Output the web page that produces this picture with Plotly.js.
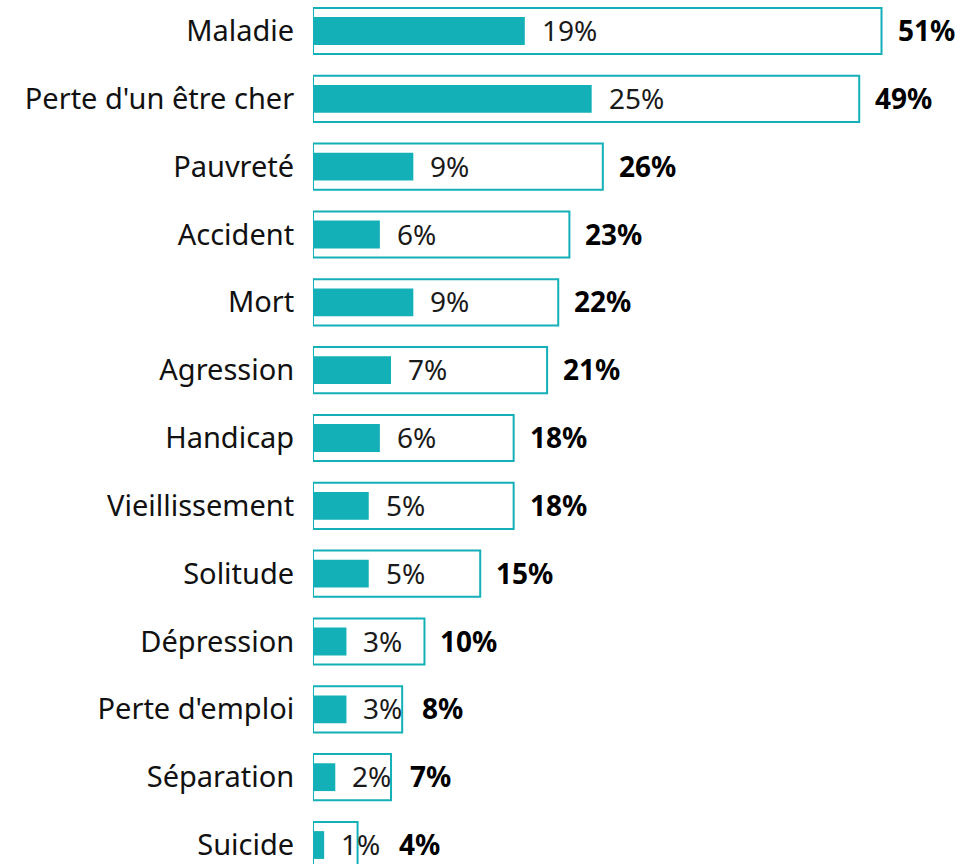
<!DOCTYPE html>
<html>
<head>
<meta charset="utf-8">
<script src="https://cdn.plot.ly/plotly-3.0.1.min.js"></script>
<style>html,body{margin:0;padding:0;background:#fff;}#chart{width:964px;height:864px;}</style>
</head>
<body>
<div id="chart"></div>
<script>
const categories = ["Maladie","Perte d'un être cher","Pauvreté","Accident","Mort","Agression","Handicap","Vieillissement","Solitude","Dépression","Perte d'emploi","Séparation","Suicide"];
const totalValues = [51,49,26,23,22,21,18,18,15,10,8,7,4];
const innerValues = [19,25,9,6,9,7,6,5,5,3,3,2,1];
const teal = "#13B0B8";
const font = "Noto Sans, Open Sans, sans-serif";

const traces = [
  {type:"bar", orientation:"h", y:categories, x:totalValues, width:0.68,
   marker:{color:"#ffffff", line:{color:teal, width:2}}, hoverinfo:"none"},
  {type:"bar", orientation:"h", y:categories, x:innerValues, width:0.41,
   marker:{color:teal, line:{width:0}}, hoverinfo:"none"}
];

const innerLabelUnits = 5.3; // approx width of inner label + gap in axis units
const annotations = [];
categories.forEach((c,i)=>{
  annotations.push({x:innerValues[i], y:c, text:innerValues[i]+"%", xanchor:"left", yanchor:"middle",
    xshift:16, yshift:1, showarrow:false, borderpad:0, font:{family:font, size:28, color:"#1a1a1a"}});
  const tx = Math.max(totalValues[i], innerValues[i] + innerLabelUnits);
  annotations.push({x:tx, y:c, text:"<b>"+totalValues[i]+"%</b>", xanchor:"left", yanchor:"middle",
    xshift:15, yshift:1, showarrow:false, borderpad:0, font:{family:font, size:28, color:"#000"}});
});

const layout = {
  width:964, height:864,
  margin:{l:313, r:0, t:0, b:0},
  paper_bgcolor:"#fff", plot_bgcolor:"#fff",
  barmode:"overlay",
  showlegend:false,
  xaxis:{range:[0,58.4], visible:false, fixedrange:true},
  yaxis:{type:"category", autorange:false, range:[12.28,-0.457], showgrid:false, zeroline:false, showline:false,
    ticks:"outside", ticklen:12, tickcolor:"rgba(0,0,0,0)",
    tickfont:{family:font, size:29, color:"#111"}},
  annotations:annotations
};
Plotly.newPlot("chart", traces, layout, {displayModeBar:false, staticPlot:true});
</script>
</body>
</html>
